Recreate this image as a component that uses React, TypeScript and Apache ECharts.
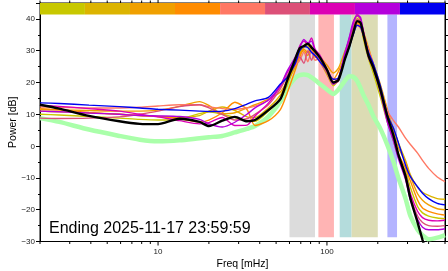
import React, { useEffect, useRef } from 'react';
import * as echarts from 'echarts';

const X_MIN = 2;
const X_MAX = 500;
const Y_MIN = -30;
const Y_MAX = 45;

const FREQ = [2, 2.6, 3.9, 5.9, 7.8, 10, 13.4, 17.6, 20, 24, 28.5, 33.6, 37.5, 45, 53, 58, 65, 69, 73, 77, 81, 85, 91, 100, 109, 117, 128, 136, 143, 151, 158, 164, 176, 188, 207, 228, 248, 265, 292, 312, 344, 368, 400, 450, 500];

const DAY_COLORS = ['#c8c800', '#dcb400', '#f0a000', '#ff8c00', '#ff7864', '#dc5078', '#dc00b4', '#b400dc', '#0000f0'];

const OLIVE = [10.0, 9.8, 9.3, 8.8, 8.4, 8.2, 8.5, 10.2, 10.8, 10.0, 9.0, 8.0, 7.8, 11.0, 15.0, 19.0, 26.0, 29.5, 31.5, 32.5, 31.0, 29.0, 26.5, 22.5, 19.0, 21.0, 29.5, 34.0, 38.0, 41.0, 39.5, 34.0, 27.5, 23.0, 15.5, 7.5, 1.5, -3.5, -8.0, -13.0, -19.0, -21.0, -22.0, -22.6, -22.8];
const GOLD = [11.0, 10.8, 10.4, 10.0, 9.6, 9.3, 9.0, 9.6, 11.0, 12.3, 11.2, 9.2, 9.0, 12.0, 16.0, 20.0, 25.0, 29.0, 31.0, 31.5, 30.0, 29.5, 27.0, 23.0, 20.0, 21.5, 29.0, 33.5, 37.0, 40.0, 39.0, 35.0, 28.5, 24.5, 18.5, 10.5, 5.5, 1.0, -4.5, -9.0, -13.0, -14.5, -15.5, -16.5, -16.7];
const ORANGE = [11.5, 11.4, 11.2, 11.0, 11.0, 11.3, 12.5, 14.0, 12.8, 10.2, 10.5, 12.0, 13.0, 14.8, 17.0, 20.5, 26.0, 29.0, 30.0, 28.5, 31.0, 29.0, 28.0, 25.5, 23.0, 24.5, 30.0, 33.0, 36.0, 38.5, 37.5, 36.0, 31.0, 26.0, 19.5, 11.5, 4.5, -0.5, -5.0, -9.5, -15.0, -17.0, -18.5, -19.7, -20.0];
const DARKORANGE = [11.8, 11.4, 10.6, 10.0, 9.6, 9.3, 8.6, 7.6, 8.2, 10.5, 13.8, 11.5, 6.5, 8.0, 11.5, 16.5, 24.0, 28.0, 30.5, 29.5, 31.5, 28.0, 27.5, 24.0, 21.0, 23.5, 28.0, 31.5, 35.5, 39.0, 38.0, 34.5, 29.0, 25.0, 18.0, 9.5, 3.0, -2.5, -7.0, -11.0, -17.0, -19.5, -20.5, -21.3, -21.7];
const SALMON = [12.3, 12.2, 12.0, 12.0, 12.2, 12.6, 13.0, 13.0, 12.4, 11.8, 11.6, 12.0, 12.6, 14.5, 18.5, 22.0, 25.5, 27.0, 29.5, 26.5, 30.0, 27.0, 27.5, 24.0, 21.0, 21.5, 28.5, 32.0, 35.5, 38.0, 37.0, 35.0, 30.5, 26.0, 18.0, 11.0, 8.0, 6.0, 2.5, 0.5, -2.2, -4.5, -7.0, -9.7, -11.2];
const PINK = [8.8, 8.7, 8.8, 9.2, 10.0, 11.0, 12.4, 13.0, 12.0, 10.0, 8.2, 8.6, 10.0, 13.0, 18.0, 22.0, 26.5, 28.0, 26.0, 30.0, 27.0, 29.5, 26.5, 23.0, 19.5, 20.5, 28.5, 33.0, 37.5, 40.0, 39.0, 35.5, 28.5, 25.0, 17.5, 8.5, 2.0, -3.5, -10.0, -16.0, -22.0, -24.0, -25.0, -25.2, -25.0];
const MAGENTA = [12.8, 12.5, 11.8, 11.0, 10.0, 9.2, 8.0, 7.0, 7.4, 9.0, 6.5, 6.6, 9.5, 13.5, 19.0, 23.0, 27.0, 31.5, 33.0, 32.0, 34.0, 30.5, 28.5, 24.0, 20.0, 21.0, 29.0, 34.0, 38.5, 41.5, 40.0, 36.5, 29.0, 25.5, 18.0, 8.0, 2.5, -3.0, -9.0, -15.0, -20.5, -22.5, -23.3, -23.5, -23.3];
const PURPLE = [11.0, 10.8, 10.4, 10.0, 9.6, 9.5, 9.3, 8.4, 7.0, 6.0, 7.5, 10.0, 12.0, 14.5, 19.0, 23.5, 28.0, 31.0, 33.5, 32.5, 33.0, 30.0, 28.0, 24.0, 19.5, 21.0, 29.5, 34.5, 39.0, 41.0, 40.5, 36.0, 28.0, 24.5, 17.0, 7.5, 1.5, -4.0, -10.5, -17.0, -23.0, -25.5, -26.3, -26.3, -26.0];
const BLUE = [13.6, 13.4, 12.9, 12.4, 12.0, 11.6, 11.3, 11.0, 10.9, 11.0, 11.8, 13.2, 14.2, 15.3, 19.5, 21.5, 26.0, 30.0, 31.3, 31.0, 29.5, 28.5, 26.5, 24.0, 21.0, 21.5, 27.5, 31.5, 35.0, 38.0, 37.5, 35.0, 29.5, 26.0, 19.0, 9.8, 5.5, 1.0, -6.0, -9.6, -12.8, -14.8, -16.5, -18.0, -18.5];
const DAYS = [OLIVE, GOLD, ORANGE, DARKORANGE, SALMON, PINK, MAGENTA, PURPLE, BLUE];

const MEAN = [13.0, 11.8, 9.5, 7.8, 7.0, 6.9, 8.6, 7.6, 6.3, 8.0, 9.2, 7.8, 8.2, 11.3, 14.8, 20.5, 27.5, 30.8, 31.5, 32.2, 31.0, 29.8, 27.8, 24.0, 20.0, 20.8, 27.5, 31.5, 35.5, 39.3, 38.8, 35.5, 28.5, 24.8, 17.8, 9.3, 3.2, -2.7, -9.5, -16.5, -24.0, -29.5, -36.0, -45.0, -50.0];
const NOISE = [8.8, 7.6, 5.2, 3.2, 2.0, 1.5, 1.8, 2.5, 2.8, 3.2, 4.3, 5.4, 6.3, 9.3, 14.0, 18.0, 21.5, 22.3, 22.5, 22.3, 21.6, 20.8, 19.5, 17.8, 16.4, 17.8, 20.6, 22.0, 21.8, 20.5, 18.3, 16.2, 13.0, 9.5, 5.5, 0.3, -5.0, -10.0, -16.5, -22.0, -26.3, -28.0, -29.3, -28.8, -28.0];

const BAND_LO = [60, 89, 119, 140, 228];
const BAND_HI = [85, 110, 140, 200, 260];
const BAND_COLORS = ['#dcdcdc', '#ffb4b4', '#b4dcdc', '#dcdcb4', '#b4b4ff'];
const BAND_Y_TOP = 41.4;
const BAND_Y_BOTTOM = -28.7;

const DAYBAR_EDGES = [2, 3.69, 6.82, 12.6, 23.3, 43.0, 79.3, 146.5, 270.5, 500];
const DAYBAR_Y_BOTTOM = 41.4;

const TICK_FREQS = [2, 3, 4, 5, 6, 7, 8, 9, 10, 20, 30, 40, 50, 60, 70, 80, 90, 100, 200, 300, 400, 500];
const LABEL_FREQS = [10, 100];

const CAPTION = 'Ending 2025-11-17 23:59:59';

const FONT = 'Liberation Sans, Arial, Helvetica, sans-serif';

export default function App() {
  const ref = useRef<HTMLDivElement>(null);
  useEffect(() => {
    const chart = echarts.init(ref.current as HTMLDivElement, null, { renderer: 'svg' });

    const lineSeries = (data: number[], color: string, width: number, z: number) => ({
      type: 'line',
      data: FREQ.map((f, i) => [f, data[i]]),
      showSymbol: false,
      symbol: 'none',
      smooth: 0.25,
      clip: true,
      silent: true,
      z,
      lineStyle: { color, width },
      itemStyle: { color },
    });

    const rect = (api: any, lo: number, hi: number, yTop: number, yBot: number, fill: string) => {
      const a = api.coord([lo, yTop]);
      const b = api.coord([hi, yBot]);
      return {
        type: 'rect',
        shape: { x: a[0], y: a[1], width: b[0] - a[0], height: b[1] - a[1] },
        style: { fill },
      };
    };

    const option: any = {
      animation: false,
      grid: {
        left: 40, right: 3, top: 3, bottom: 29.5,
        containLabel: false,
        outerBoundsMode: 'none',
        show: true, borderColor: '#000', borderWidth: 1, backgroundColor: 'transparent',
      },
      xAxis: {
        type: 'log',
        logBase: 10,
        min: X_MIN,
        max: X_MAX,
        name: 'Freq [mHz]',
        nameLocation: 'middle',
        nameGap: 16,
        nameMoveOverlap: false,
        nameTextStyle: { fontSize: 10.5, color: '#000', fontFamily: FONT, verticalAlign: 'top' },
        axisLine: { show: true, onZero: false, lineStyle: { color: '#000', width: 1 } },
        axisTick: { show: false },
        splitLine: { show: false },
        axisLabel: {
          fontSize: 8,
          color: '#222',
          fontFamily: FONT,
          margin: 5.5,
          formatter: (v: number) => {
            const hit = LABEL_FREQS.find((f) => Math.abs(f - v) < 1e-6 * f);
            return hit ? String(hit) : '';
          },
        },
      },
      yAxis: [
        {
          type: 'value',
          min: Y_MIN,
          max: Y_MAX,
          interval: 10,
          name: 'Power [dB]',
          nameLocation: 'middle',
          nameGap: 23,
          nameMoveOverlap: false,
          nameTextStyle: { fontSize: 10.5, color: '#000', fontFamily: FONT },
          axisLine: { show: true, onZero: false, lineStyle: { color: '#000', width: 1 } },
          axisTick: { show: true, length: 4, lineStyle: { color: '#000' } },
          minorTick: { show: true, splitNumber: 2, length: 2, lineStyle: { color: '#000' } },
          splitLine: { show: false },
          axisLabel: {
            fontSize: 8,
            color: '#222',
            fontFamily: FONT,
            margin: 5,
            formatter: (v: number) => (v > 40 ? '' : String(v).replace('-', '\u2212')),
          },
        },
        {
          type: 'value',
          position: 'right',
          min: Y_MIN,
          max: Y_MAX,
          interval: 5,
          axisLine: { show: true, onZero: false, lineStyle: { color: '#000', width: 1 } },
          axisTick: { show: true, length: 3, lineStyle: { color: '#000' } },
          axisLabel: { show: false },
          splitLine: { show: false },
        },
      ],
      graphic: [
        {
          type: 'text',
          left: 49,
          top: 219,
          z: 100,
          style: { text: CAPTION, fontSize: 16, fontFamily: FONT, fill: '#000' },
        },
      ],
      series: [
        {
          type: 'custom',
          z: 1,
          silent: true,
          data: BAND_LO.map((lo, i) => [lo, BAND_HI[i], i]),
          renderItem: (_p: any, api: any) =>
            rect(api, api.value(0), api.value(1), BAND_Y_TOP, BAND_Y_BOTTOM, BAND_COLORS[api.value(2)]),
        },
        {
          type: 'custom',
          z: 1,
          silent: true,
          data: DAYBAR_EDGES.slice(0, -1).map((lo, i) => [lo, DAYBAR_EDGES[i + 1], i]),
          renderItem: (_p: any, api: any) =>
            rect(api, api.value(0), api.value(1), Y_MAX, DAYBAR_Y_BOTTOM, DAY_COLORS[api.value(2)]),
        },
        lineSeries(NOISE, '#aaffaa', 4.5, 2),
        ...DAYS.map((d, i) => lineSeries(d, DAY_COLORS[i], 1.4, 3)),
        lineSeries(MEAN, '#000000', 2.4, 4),
        {
          type: 'custom',
          z: 10,
          silent: true,
          clip: false,
          data: TICK_FREQS.map((f) => [f, Y_MIN]),
          renderItem: (_p: any, api: any) => {
            const f = api.value(0);
            const major = LABEL_FREQS.some((m) => Math.abs(m - f) < 1e-6 * m);
            const len = major ? 4 : 2.5;
            const b = api.coord([f, Y_MIN]);
            const t = api.coord([f, Y_MAX]);
            return {
              type: 'group',
              children: [
                { type: 'line', shape: { x1: b[0], y1: b[1], x2: b[0], y2: b[1] + len }, style: { stroke: '#000', lineWidth: 1 } },
                { type: 'line', shape: { x1: t[0], y1: t[1], x2: t[0], y2: t[1] - len }, style: { stroke: '#000', lineWidth: 1 } },
              ],
            };
          },
        },
      ],
    };
    chart.setOption(option);
    return () => chart.dispose();
  }, []);
  return <div ref={ref} style={{ position: 'fixed', left: 0, top: 0, width: 448, height: 271 }} />;
}
